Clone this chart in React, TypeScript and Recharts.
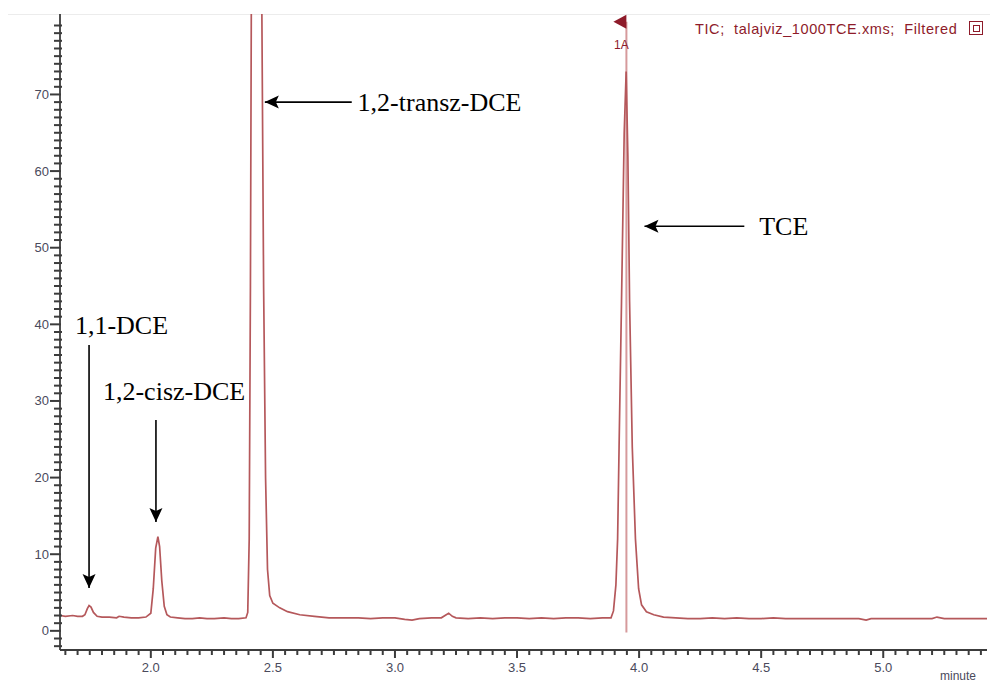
import React from "react";
import { LineChart, Line, XAxis, YAxis, ReferenceLine, ReferenceDot } from "recharts";

// retention time (minute) and detector signal
const times = [
  1.63, 1.65, 1.68, 1.7, 1.72, 1.73, 1.74, 1.747, 1.755, 1.765, 1.78, 1.8, 1.83, 1.86, 1.87, 1.89,
  1.92, 1.95, 1.98, 2.0, 2.01, 2.02, 2.029, 2.036, 2.045, 2.055, 2.066, 2.08, 2.11, 2.14, 2.17, 2.2,
  2.23, 2.26, 2.3, 2.33, 2.36, 2.39, 2.397, 2.403, 2.408, 2.413, 2.452, 2.462, 2.47, 2.478, 2.487,
  2.5, 2.528, 2.56, 2.61, 2.67, 2.73, 2.8, 2.85, 2.9, 2.95, 3.0, 3.04, 3.07, 3.1, 3.15, 3.19, 3.21,
  3.22, 3.235, 3.25, 3.3, 3.35, 3.4, 3.45, 3.5, 3.55, 3.6, 3.65, 3.7, 3.75, 3.8, 3.85, 3.885, 3.895,
  3.905, 3.912, 3.918, 3.928, 3.939, 3.947, 3.954, 3.961, 3.972, 3.985, 3.998, 4.01, 4.03, 4.06, 4.1,
  4.15, 4.2, 4.25, 4.3, 4.35, 4.4, 4.45, 4.5, 4.55, 4.6, 4.65, 4.7, 4.75, 4.8, 4.85, 4.9, 4.93, 4.95,
  5.0, 5.05, 5.1, 5.15, 5.2, 5.22, 5.25, 5.3, 5.35, 5.425,
];
const signal = [
  2.0, 1.9, 2.0, 1.9, 1.9, 2.1, 2.9, 3.3, 3.1, 2.4, 1.9, 1.8, 1.8, 1.7, 1.9, 1.8,
  1.7, 1.7, 1.8, 2.3, 5.5, 10.8, 12.3, 11.0, 6.5, 3.2, 2.1, 1.8, 1.7, 1.6, 1.6, 1.7,
  1.6, 1.6, 1.7, 1.6, 1.6, 1.7, 2.4, 12, 45, 95, 95, 45, 20, 8, 4.6,
  3.6, 3.0, 2.5, 2.1, 1.9, 1.7, 1.7, 1.7, 1.6, 1.7, 1.7, 1.5, 1.4, 1.6, 1.7, 1.7, 2.1,
  2.3, 1.9, 1.7, 1.6, 1.7, 1.6, 1.7, 1.7, 1.6, 1.7, 1.6, 1.7, 1.7, 1.6, 1.7, 1.7, 2.6,
  6, 12, 24, 43, 65, 73, 62, 43, 24, 12, 5.5, 3.4, 2.5, 2.1, 1.8,
  1.7, 1.6, 1.6, 1.7, 1.6, 1.7, 1.6, 1.6, 1.7, 1.6, 1.6, 1.6, 1.6, 1.6, 1.6, 1.6, 1.4, 1.6,
  1.6, 1.6, 1.6, 1.6, 1.6, 1.8, 1.6, 1.6, 1.6, 1.6,
];

const xMajor = [2.0, 2.5, 3.0, 3.5, 4.0, 4.5, 5.0];
const xLabels = ["2.0", "2.5", "3.0", "3.5", "4.0", "4.5", "5.0"];
const yMajor = [0, 10, 20, 30, 40, 50, 60, 70];
const yLabels = ["0", "10", "20", "30", "40", "50", "60", "70"];

// peak labels: arrow tip, arrow tail and text anchor in chart units
const peakNames = ["1,1-DCE", "1,2-cisz-DCE", "1,2-transz-DCE", "TCE"];
const arrowTips = [
  { x: 1.747, y: 5.6 },
  { x: 2.021, y: 14.2 },
  { x: 2.467, y: 69.0 },
  { x: 4.022, y: 52.8 },
];
const arrowTails = [
  { x: 1.747, y: 37.3 },
  { x: 2.021, y: 27.5 },
  { x: 2.823, y: 69.0 },
  { x: 4.431, y: 52.8 },
];
const textAnchors = [
  { x: 1.689, y: 38.7 },
  { x: 1.804, y: 30.1 },
  { x: 2.847, y: 67.9 },
  { x: 4.492, y: 51.6 },
];

const markerTime = 3.948;
const xDomain = [1.628, 5.425];
const yDomain = [-2.5, 80.5];

const data = times.map((t, i) => ({ t, v: signal[i] }));

// minor tick positions: every 0.05 min and every 1 unit
const xMinor: number[] = [];
for (let k = 33; k <= 108; k++) if (k % 10 !== 0) xMinor.push(Math.round(k * 5) / 100);
const yMinor: number[] = [];
for (let k = -2; k <= 80; k++) if (k % 10 !== 0) yMinor.push(k);

const axisColor = "#3c3c3c";
const labelColor = "#4a4a5c";
const traceColor = "#b5585b";
const maroon = "#8e1b2a";
const sans = "'Liberation Sans', Arial, sans-serif";
const serif = "'Liberation Serif', 'Times New Roman', serif";

const renderXTick = (props: any) => {
  const { x, y, payload } = props;
  const idx = xMajor.findIndex((m) => Math.abs(m - payload.value) < 1e-6);
  return (
    <g key={"xt" + payload.value}>
      <line x1={x} x2={x} y1={y - 1} y2={y + 8} stroke={axisColor} strokeWidth={2} />
      <text x={x} y={y + 22} textAnchor="middle" fontSize={13} fill={labelColor} fontFamily={sans}>
        {xLabels[idx]}
      </text>
    </g>
  );
};

const renderYTick = (props: any) => {
  const { x, y, payload } = props;
  const idx = yMajor.indexOf(payload.value);
  return (
    <g key={"yt" + payload.value}>
      <line x1={x - 10} x2={x + 1} y1={y} y2={y} stroke={axisColor} strokeWidth={2} />
      <text x={x - 11} y={y + 4.5} textAnchor="end" fontSize={13} fill={labelColor} fontFamily={sans}>
        {yLabels[idx]}
      </text>
    </g>
  );
};

const xMinorMark = (p: any) => (
  <line x1={p.cx} x2={p.cx} y1={p.cy - 1} y2={p.cy + 5} stroke={axisColor} strokeWidth={2} />
);
const yMinorMark = (p: any) => (
  <line x1={p.cx - 6} x2={p.cx + 2} y1={p.cy} y2={p.cy} stroke={axisColor} strokeWidth={2} />
);

const arrowHead = (dir: "down" | "left") => (p: any) => {
  const { cx, cy } = p;
  const pts =
    dir === "down"
      ? `${cx},${cy} ${cx - 6.5},${cy - 14} ${cx},${cy - 11} ${cx + 6.5},${cy - 14}`
      : `${cx},${cy} ${cx + 14},${cy - 6.5} ${cx + 11},${cy} ${cx + 14},${cy + 6.5}`;
  return <polygon points={pts} fill="#000" />;
};

const peakText = (label: string) => (p: any) => (
  <text x={p.cx} y={p.cy} fontSize={26} fontFamily={serif} fill="#000">
    {label}
  </text>
);

const markerFlag = (p: any) => {
  const { cx, cy } = p;
  return (
    <g>
      <polygon points={`${cx - 13},${cy} ${cx},${cy - 7} ${cx},${cy + 7}`} fill={maroon} />
      <text x={cx - 5} y={cy + 27} textAnchor="middle" fontSize={12} fill={maroon} fontFamily={sans}>
        1A
      </text>
    </g>
  );
};

export default function App() {
  return (
    <div
      style={{
        position: "absolute",
        left: 0,
        top: 0,
        width: 990,
        height: 684,
        background: "#fff",
        fontFamily: sans,
      }}
    >
      <div style={{ position: "absolute", left: 8, right: 0, top: 14, height: 1, background: "#ececec" }} />
      <LineChart width={990} height={684} data={data} margin={{ top: 14, right: 3, bottom: 4, left: 0 }}>
        <XAxis
          dataKey="t"
          type="number"
          domain={xDomain}
          allowDataOverflow
          ticks={xMajor}
          interval={0}
          tick={renderXTick}
          tickLine={false}
          tickSize={0}
          tickMargin={0}
          height={30}
          axisLine={{ stroke: axisColor, strokeWidth: 1.8 }}
        />
        <YAxis
          type="number"
          domain={yDomain}
          allowDataOverflow
          ticks={yMajor}
          interval={0}
          tick={renderYTick}
          tickLine={false}
          tickSize={0}
          tickMargin={0}
          width={60}
          axisLine={{ stroke: axisColor, strokeWidth: 1.8 }}
        />
        {xMinor.map((t) => (
          <ReferenceDot key={"xm" + t} x={t} y={yDomain[0]} r={1} shape={xMinorMark} />
        ))}
        {yMinor.map((v) => (
          <ReferenceDot key={"ym" + v} x={xDomain[0]} y={v} r={1} shape={yMinorMark} />
        ))}
        <ReferenceLine
          segment={[
            { x: markerTime, y: -0.2 },
            { x: markerTime, y: 79.5 },
          ]}
          stroke="#d69a9c"
          strokeWidth={2}
        />
        <Line
          type="linear"
          dataKey="v"
          stroke={traceColor}
          strokeWidth={1.7}
          dot={false}
          isAnimationActive={false}
        />
        <ReferenceDot x={markerTime} y={79.5} r={1} shape={markerFlag} />
        {peakNames.map((name, i) => (
          <ReferenceLine
            key={"s" + i}
            segment={[arrowTails[i], arrowTips[i]]}
            stroke="#000"
            strokeWidth={1.6}
          />
        ))}
        {peakNames.map((name, i) => (
          <ReferenceDot
            key={"h" + i}
            x={arrowTips[i].x}
            y={arrowTips[i].y}
            r={1}
            shape={arrowHead(arrowTips[i].x === arrowTails[i].x ? "down" : "left")}
          />
        ))}
        {peakNames.map((name, i) => (
          <ReferenceDot key={"t" + i} x={textAnchors[i].x} y={textAnchors[i].y} r={1} shape={peakText(name)} />
        ))}
      </LineChart>
      <div
        style={{
          position: "absolute",
          left: 695,
          top: 20,
          fontSize: 14.5,
          letterSpacing: 0.6,
          color: maroon,
          whiteSpace: "pre",
          lineHeight: "18px",
        }}
      >
        {"TIC;  talajviz_1000TCE.xms;  Filtered"}
      </div>
      <div
        style={{
          position: "absolute",
          left: 969,
          top: 21,
          width: 12,
          height: 12,
          border: `1.5px solid ${maroon}`,
        }}
      >
        <div style={{ position: "absolute", left: 2.5, top: 2.5, width: 5, height: 5, border: `1.5px solid ${maroon}` }} />
      </div>
      <div
        style={{ position: "absolute", left: 940, top: 669, fontSize: 12, color: labelColor, lineHeight: "14px" }}
      >
        minute
      </div>
    </div>
  );
}
